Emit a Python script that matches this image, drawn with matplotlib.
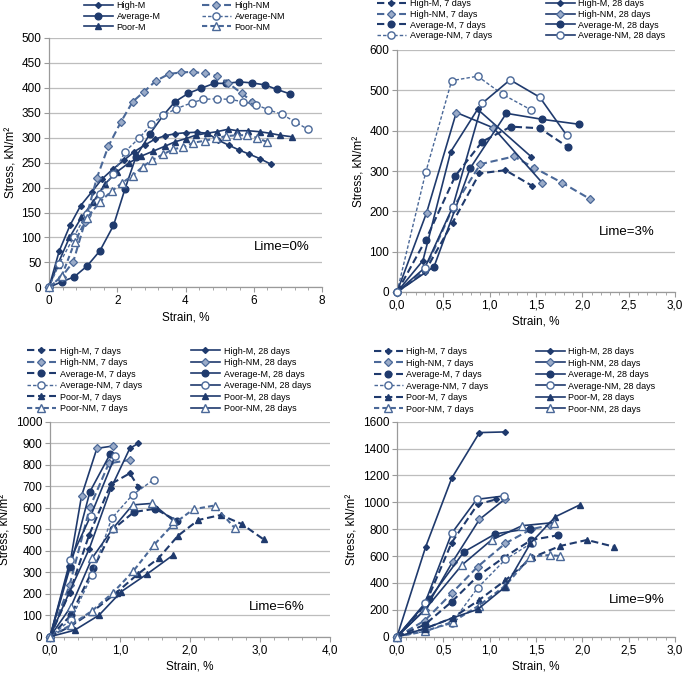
import matplotlib
matplotlib.use('Agg')
import matplotlib.pyplot as plt
from matplotlib.ticker import MultipleLocator, FuncFormatter

plt.rcParams['font.family'] = ['Liberation Sans', 'DejaVu Sans']

# ---------------- data: Lime = 0% ----------------
l0_high_m_x = [0, 0.3, 0.62, 0.93, 1.25, 1.55, 1.87, 2.2, 2.5, 2.8, 3.1, 3.4, 3.7, 4.0, 4.33, 4.64, 4.96, 5.27, 5.58, 5.87, 6.18, 6.5]
l0_high_m_y = [0, 73, 125, 164, 191, 217, 237, 255, 272, 285, 297, 304, 308, 310, 311, 309, 295, 285, 275, 267, 258, 247]
l0_avg_m_x = [0, 0.37, 0.74, 1.12, 1.49, 1.89, 2.23, 2.55, 2.95, 3.35, 3.69, 4.08, 4.45, 4.84, 5.2, 5.58, 5.94, 6.33, 6.67, 7.06]
l0_avg_m_y = [0, 11, 21, 43, 73, 124, 198, 262, 307, 345, 372, 389, 399, 409, 409, 412, 410, 406, 397, 388]
l0_poor_m_x = [0, 0.25, 0.6, 0.95, 1.3, 1.65, 2.0, 2.35, 2.7, 3.05, 3.4, 3.7, 4.0, 4.3, 4.62, 4.91, 5.25, 5.52, 5.84, 6.18, 6.47, 6.77, 7.11]
l0_poor_m_y = [0, 45, 100, 140, 172, 208, 232, 250, 263, 273, 283, 292, 298, 305, 309, 312, 317, 314, 314, 312, 309, 305, 302]
l0_high_nm_x = [0, 0.37, 0.71, 1.05, 1.4, 1.74, 2.11, 2.45, 2.78, 3.13, 3.52, 3.88, 4.21, 4.57, 4.93, 5.26, 5.65, 5.96]
l0_high_nm_y = [0, 21, 51, 130, 219, 283, 332, 372, 392, 414, 428, 431, 432, 429, 424, 409, 389, 372]
l0_avg_nm_x = [0, 0.3, 0.72, 1.1, 1.49, 1.89, 2.23, 2.65, 3.0, 3.35, 3.72, 4.18, 4.52, 4.91, 5.3, 5.69, 6.08, 6.43, 6.82, 7.21, 7.58]
l0_avg_nm_y = [0, 47, 100, 148, 188, 228, 272, 300, 327, 345, 358, 370, 377, 378, 377, 372, 366, 356, 347, 332, 317]
l0_poor_nm_x = [0, 0.37, 0.75, 1.1, 1.5, 1.84, 2.15, 2.45, 2.75, 3.02, 3.35, 3.64, 3.94, 4.23, 4.57, 4.88, 5.18, 5.5, 5.79, 6.1, 6.4]
l0_poor_nm_y = [0, 22, 90, 138, 172, 193, 210, 224, 242, 255, 267, 277, 281, 290, 294, 299, 303, 305, 305, 300, 291]

# ---------------- data: Lime = 3% ----------------
l3_high_m7_x = [0, 0.3, 0.6, 0.89, 1.17, 1.46]
l3_high_m7_y = [0, 50, 172, 294, 302, 263]
l3_high_nm7_x = [0, 0.3, 0.6, 0.9, 1.26, 1.48, 1.78, 2.08]
l3_high_nm7_y = [0, 55, 207, 317, 336, 308, 271, 231]
l3_avg_m7_x = [0, 0.31, 0.63, 0.92, 1.23, 1.54, 1.84]
l3_avg_m7_y = [0, 129, 288, 373, 410, 406, 360]
l3_avg_nm7_x = [0, 0.31, 0.59, 0.87, 1.14, 1.45]
l3_avg_nm7_y = [0, 297, 524, 535, 490, 451]
l3_high_m28_x = [0, 0.28, 0.58, 0.87, 1.45]
l3_high_m28_y = [0, 78, 348, 453, 335]
l3_high_nm28_x = [0, 0.32, 0.64, 1.04, 1.57]
l3_high_nm28_y = [0, 197, 445, 407, 270]
l3_avg_m28_x = [0, 0.4, 0.79, 1.18, 1.57, 1.96]
l3_avg_m28_y = [0, 63, 307, 443, 428, 416]
l3_avg_nm28_x = [0, 0.3, 0.6, 0.92, 1.22, 1.54, 1.83]
l3_avg_nm28_y = [0, 60, 210, 468, 526, 483, 389]

# ---------------- data: Lime = 6% ----------------
l6_high_m7_x = [0, 0.28, 0.56, 0.87, 1.14, 1.26]
l6_high_m7_y = [0, 205, 474, 710, 760, 698]
l6_high_nm7_x = [0, 0.28, 0.57, 0.84, 1.14]
l6_high_nm7_y = [0, 240, 602, 806, 822]
l6_avg_m7_x = [0, 0.3, 0.62, 0.9, 1.2, 1.5, 1.81]
l6_avg_m7_y = [0, 100, 318, 500, 580, 595, 540]
l6_avg_nm7_x = [0, 0.3, 0.6, 0.88, 1.18, 1.48]
l6_avg_nm7_y = [0, 80, 287, 550, 660, 730]
l6_poor_m7_x = [0, 0.3, 0.6, 0.95, 1.25, 1.55, 1.83, 2.12, 2.44, 2.74, 3.05]
l6_poor_m7_y = [0, 50, 115, 205, 290, 365, 470, 543, 566, 524, 453]
l6_poor_nm7_x = [0, 0.3, 0.6, 0.9, 1.19, 1.48, 1.76, 2.05, 2.35, 2.64]
l6_poor_nm7_y = [0, 55, 120, 205, 305, 425, 523, 593, 610, 505]
l6_high_m28_x = [0, 0.28, 0.56, 0.87, 1.14, 1.26]
l6_high_m28_y = [0, 210, 408, 690, 876, 899]
l6_high_nm28_x = [0, 0.28, 0.45, 0.67, 0.9]
l6_high_nm28_y = [0, 330, 654, 876, 887]
l6_avg_m28_x = [0, 0.29, 0.57, 0.86]
l6_avg_m28_y = [0, 326, 674, 850]
l6_avg_nm28_x = [0, 0.29, 0.58, 0.93]
l6_avg_nm28_y = [0, 357, 561, 840]
l6_poor_m28_x = [0, 0.35, 0.7, 1.02, 1.38, 1.76]
l6_poor_m28_y = [0, 30, 100, 210, 290, 380]
l6_poor_nm28_x = [0, 0.3, 0.6, 0.9, 1.18, 1.46, 1.76]
l6_poor_nm28_y = [0, 140, 365, 504, 613, 620, 540]

# ---------------- data: Lime = 9% ----------------
l9_high_m7_x = [0, 0.3, 0.59, 0.87, 1.07]
l9_high_m7_y = [0, 230, 700, 985, 1022]
l9_high_nm7_x = [0, 0.3, 0.59, 0.87, 1.17, 1.45, 1.65]
l9_high_nm7_y = [0, 120, 323, 521, 695, 800, 830]
l9_avg_m7_x = [0, 0.3, 0.59, 0.87, 1.15, 1.45, 1.74]
l9_avg_m7_y = [0, 90, 260, 450, 588, 720, 755]
l9_avg_nm7_x = [0, 0.3, 0.59, 0.87, 1.17, 1.46]
l9_avg_nm7_y = [0, 40, 100, 363, 575, 700]
l9_poor_m7_x = [0, 0.3, 0.6, 0.88, 1.17, 1.46, 1.76, 2.05, 2.34]
l9_poor_m7_y = [0, 60, 140, 270, 420, 590, 675, 720, 670]
l9_poor_nm7_x = [0, 0.3, 0.6, 0.88, 1.17, 1.44, 1.65, 1.76]
l9_poor_nm7_y = [0, 40, 110, 230, 380, 595, 608, 600]
l9_high_m28_x = [0, 0.31, 0.59, 0.89, 1.17]
l9_high_m28_y = [0, 670, 1179, 1519, 1524]
l9_high_nm28_x = [0, 0.3, 0.6, 0.89, 1.17]
l9_high_nm28_y = [0, 200, 558, 873, 1027]
l9_avg_m28_x = [0, 0.35, 0.72, 1.06, 1.43]
l9_avg_m28_y = [0, 280, 630, 765, 805]
l9_avg_nm28_x = [0, 0.3, 0.59, 0.86, 1.15]
l9_avg_nm28_y = [0, 248, 769, 1022, 1047]
l9_poor_m28_x = [0, 0.3, 0.6, 0.87, 1.17, 1.44, 1.71, 1.97]
l9_poor_m28_y = [0, 60, 140, 203, 372, 695, 893, 980]
l9_poor_nm28_x = [0, 0.3, 0.7, 1.02, 1.35, 1.69]
l9_poor_nm28_y = [0, 200, 533, 720, 826, 849]

NAVY = '#1f3a6d'
LIGHT = '#4a6898'

# marker style per material
mk = {
    'High-M': dict(marker='D', ms=3.0, mfc=NAVY, mec=NAVY),
    'High-NM': dict(marker='D', ms=3.6, mfc='#9aabc8', mec=LIGHT, mew=0.9),
    'Average-M': dict(marker='o', ms=4.8, mfc=NAVY, mec=NAVY),
    'Average-NM': dict(marker='o', ms=5.2, mfc='white', mec=LIGHT, mew=1.0),
    'Poor-M': dict(marker='^', ms=4.8, mfc=NAVY, mec=NAVY),
    'Poor-NM': dict(marker='^', ms=5.2, mfc='white', mec=LIGHT, mew=1.0),
}
DASH = (0, (3.5, 1.8))
THIN_DASH = (0, (2.5, 1.5))


def curve(ax, x, y, name, dashed, label):
    if dashed:
        ls = THIN_DASH if name in ('Average-NM', 'Poor-NM') else DASH
        lw = 1.0 if name in ('Average-NM',) else 1.5
        col = LIGHT if name.endswith('NM') else NAVY
    else:
        ls = '-'
        lw = 1.2
        col = NAVY
    line, = ax.plot(x, y, color=col, ls=ls, lw=lw, label=label, clip_on=False, zorder=3, **mk[name])
    return line


def style(ax, xmax, xmajor, xminor, ymax, ymajor, xfmt):
    ax.set_xlim(0, xmax)
    ax.set_ylim(0, ymax)
    ax.xaxis.set_major_locator(MultipleLocator(xmajor))
    ax.xaxis.set_minor_locator(MultipleLocator(xminor))
    ax.yaxis.set_major_locator(MultipleLocator(ymajor))
    ax.xaxis.set_major_formatter(FuncFormatter(xfmt))
    for s in ('top', 'right'):
        ax.spines[s].set_visible(False)
    for s in ('left', 'bottom'):
        ax.spines[s].set_color('#9a9a9a')
        ax.spines[s].set_linewidth(0.9)
    ax.grid(axis='y', color='#bdbdbd', lw=0.9)
    ax.set_axisbelow(True)
    ax.tick_params(axis='both', which='major', labelsize=8.5, color='#9a9a9a', length=3.5, pad=2)
    ax.tick_params(axis='x', which='minor', color='#9a9a9a', length=2)
    ax.set_ylabel('Stress, kN/m²', fontsize=8.5, labelpad=3)
    ax.set_xlabel('Strain, %', fontsize=8.5, labelpad=3)


def two_legends(ax, fig, col1, col2, x1, x2, ytop, fs=6.5, spacing=0.2):
    kw = dict(loc='upper left', bbox_transform=fig.transFigure, frameon=False,
              fontsize=fs, handlelength=3.2, handletextpad=0.4, borderpad=0,
              borderaxespad=0, labelspacing=spacing, numpoints=1)
    lg1 = ax.legend(handles=col1, bbox_to_anchor=(x1 / 685, 1 - ytop / 679), **kw)
    ax.add_artist(lg1)
    ax.legend(handles=col2, bbox_to_anchor=(x2 / 685, 1 - ytop / 679), **kw)


fmt_int = lambda v, p: '%d' % v
fmt_comma = lambda v, p: ('%.1f' % v).replace('.', ',')

fig = plt.figure(figsize=(6.85, 6.79), dpi=100)

# ---- Lime 0% ----
ax1 = fig.add_axes([49 / 685, 1 - 287.3 / 679, 273 / 685, 249.3 / 679])
style(ax1, 8, 2, 0.4, 500, 50, fmt_int)
h = [curve(ax1, l0_high_m_x, l0_high_m_y, 'High-M', False, 'High-M'),
     curve(ax1, l0_avg_m_x, l0_avg_m_y, 'Average-M', False, 'Average-M'),
     curve(ax1, l0_poor_m_x, l0_poor_m_y, 'Poor-M', False, 'Poor-M')]
g = [curve(ax1, l0_high_nm_x, l0_high_nm_y, 'High-NM', True, 'High-NM'),
     curve(ax1, l0_avg_nm_x, l0_avg_nm_y, 'Average-NM', True, 'Average-NM'),
     curve(ax1, l0_poor_nm_x, l0_poor_nm_y, 'Poor-NM', True, 'Poor-NM')]
two_legends(ax1, fig, h, g, 84, 202, 1)
ax1.text(0.853, 0.162, 'Lime=0%', transform=ax1.transAxes, ha='center', va='center', fontsize=9.5)

# ---- Lime 3% ----
ax2 = fig.add_axes([397 / 685, 1 - 292 / 679, 278 / 685, 242 / 679])
style(ax2, 3, 0.5, 0.1, 600, 100, fmt_comma)
c1 = [curve(ax2, l3_high_m7_x, l3_high_m7_y, 'High-M', True, 'High-M, 7 days'),
      curve(ax2, l3_high_nm7_x, l3_high_nm7_y, 'High-NM', True, 'High-NM, 7 days'),
      curve(ax2, l3_avg_m7_x, l3_avg_m7_y, 'Average-M', True, 'Average-M, 7 days'),
      curve(ax2, l3_avg_nm7_x, l3_avg_nm7_y, 'Average-NM', True, 'Average-NM, 7 days')]
c2 = [curve(ax2, l3_high_m28_x, l3_high_m28_y, 'High-M', False, 'High-M, 28 days'),
      curve(ax2, l3_high_nm28_x, l3_high_nm28_y, 'High-NM', False, 'High-NM, 28 days'),
      curve(ax2, l3_avg_m28_x, l3_avg_m28_y, 'Average-M', False, 'Average-M, 28 days'),
      curve(ax2, l3_avg_nm28_x, l3_avg_nm28_y, 'Average-NM', False, 'Average-NM, 28 days')]
two_legends(ax2, fig, c1, c2, 377, 546, -1)
ax2.text(0.826, 0.249, 'Lime=3%', transform=ax2.transAxes, ha='center', va='center', fontsize=9.5)

# ---- Lime 6% ----
ax3 = fig.add_axes([50 / 685, 1 - 636.7 / 679, 280 / 685, 215 / 679])
style(ax3, 4, 1, 0.2, 1000, 100, fmt_comma)
c1 = [curve(ax3, l6_high_m7_x, l6_high_m7_y, 'High-M', True, 'High-M, 7 days'),
      curve(ax3, l6_high_nm7_x, l6_high_nm7_y, 'High-NM', True, 'High-NM, 7 days'),
      curve(ax3, l6_avg_m7_x, l6_avg_m7_y, 'Average-M', True, 'Average-M, 7 days'),
      curve(ax3, l6_avg_nm7_x, l6_avg_nm7_y, 'Average-NM', True, 'Average-NM, 7 days'),
      curve(ax3, l6_poor_m7_x, l6_poor_m7_y, 'Poor-M', True, 'Poor-M, 7 days'),
      curve(ax3, l6_poor_nm7_x, l6_poor_nm7_y, 'Poor-NM', True, 'Poor-NM, 7 days')]
c2 = [curve(ax3, l6_high_m28_x, l6_high_m28_y, 'High-M', False, 'High-M, 28 days'),
      curve(ax3, l6_high_nm28_x, l6_high_nm28_y, 'High-NM', False, 'High-NM, 28 days'),
      curve(ax3, l6_avg_m28_x, l6_avg_m28_y, 'Average-M', False, 'Average-M, 28 days'),
      curve(ax3, l6_avg_nm28_x, l6_avg_nm28_y, 'Average-NM', False, 'Average-NM, 28 days'),
      curve(ax3, l6_poor_m28_x, l6_poor_m28_y, 'Poor-M', False, 'Poor-M, 28 days'),
      curve(ax3, l6_poor_nm28_x, l6_poor_nm28_y, 'Poor-NM', False, 'Poor-NM, 28 days')]
two_legends(ax3, fig, c1, c2, 27, 191, 346.5, spacing=0.28)
ax3.text(0.81, 0.14, 'Lime=6%', transform=ax3.transAxes, ha='center', va='center', fontsize=9.5)

# ---- Lime 9% ----
ax4 = fig.add_axes([397 / 685, 1 - 636.7 / 679, 278 / 685, 215 / 679])
style(ax4, 3, 0.5, 0.1, 1600, 200, fmt_comma)
c1 = [curve(ax4, l9_high_m7_x, l9_high_m7_y, 'High-M', True, 'High-M, 7 days'),
      curve(ax4, l9_high_nm7_x, l9_high_nm7_y, 'High-NM', True, 'High-NM, 7 days'),
      curve(ax4, l9_avg_m7_x, l9_avg_m7_y, 'Average-M', True, 'Average-M, 7 days'),
      curve(ax4, l9_avg_nm7_x, l9_avg_nm7_y, 'Average-NM', True, 'Average-NM, 7 days'),
      curve(ax4, l9_poor_m7_x, l9_poor_m7_y, 'Poor-M', True, 'Poor-M, 7 days'),
      curve(ax4, l9_poor_nm7_x, l9_poor_nm7_y, 'Poor-NM', True, 'Poor-NM, 7 days')]
c2 = [curve(ax4, l9_high_m28_x, l9_high_m28_y, 'High-M', False, 'High-M, 28 days'),
      curve(ax4, l9_high_nm28_x, l9_high_nm28_y, 'High-NM', False, 'High-NM, 28 days'),
      curve(ax4, l9_avg_m28_x, l9_avg_m28_y, 'Average-M', False, 'Average-M, 28 days'),
      curve(ax4, l9_avg_nm28_x, l9_avg_nm28_y, 'Average-NM', False, 'Average-NM, 28 days'),
      curve(ax4, l9_poor_m28_x, l9_poor_m28_y, 'Poor-M', False, 'Poor-M, 28 days'),
      curve(ax4, l9_poor_nm28_x, l9_poor_nm28_y, 'Poor-NM', False, 'Poor-NM, 28 days')]
two_legends(ax4, fig, c1, c2, 374, 536, 347, spacing=0.28)
ax4.text(0.862, 0.171, 'Lime=9%', transform=ax4.transAxes, ha='center', va='center', fontsize=9.5)

fig.savefig('out.png', dpi=100)
